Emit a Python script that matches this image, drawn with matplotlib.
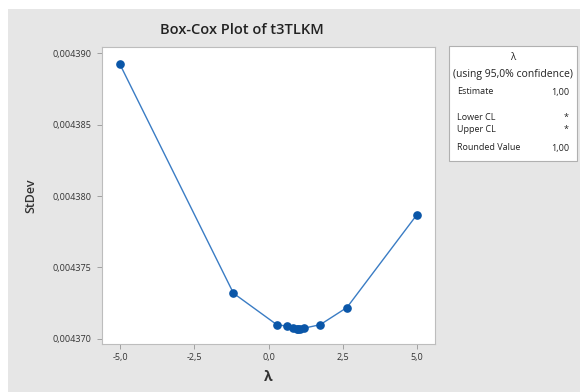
import matplotlib
matplotlib.use("Agg")
import matplotlib.pyplot as plt
from matplotlib.patches import Rectangle
from matplotlib.ticker import FuncFormatter, FixedLocator

lam = [-5.0, -1.18, 0.28, 0.62, 0.84, 0.96, 1.0, 1.05, 1.18, 1.74, 2.64, 5.0]
stdev = [0.0043892, 0.0043732, 0.0043710, 0.0043709, 0.00437075, 0.00437072,
         0.00437072, 0.00437072, 0.00437075, 0.0043710, 0.0043722, 0.0043787]
xticks = [-5.0, -2.5, 0.0, 2.5, 5.0]
yticks = [0.004370, 0.004375, 0.004380, 0.004385, 0.004390]
legend_rows = [("Estimate", "1,00"), ("Lower CL", "*"), ("Upper CL", "*"), ("Rounded Value", "1,00")]

plt.rcParams['font.family'] = ['Open Sans', 'DejaVu Sans']

W, H = 580, 392
fig = plt.figure(figsize=(W / 100, H / 100), dpi=100)
fig.patch.set_facecolor('white')
fig.patches.append(Rectangle((8 / W, 0), 1 - 8 / W, 1 - 9 / H, transform=fig.transFigure,
                             facecolor='#e6e6e6', edgecolor='none', zorder=-10))

ax = fig.add_axes([102 / W, 1 - 344 / H, (435 - 102) / W, (344 - 47) / H])
ax.set_zorder(2)
ax.set_facecolor('white')
ax.plot(lam, stdev, color='#3a7cc4', lw=1.0, marker='o', markersize=5.2,
        markerfacecolor='#0a56a8', markeredgecolor='#0a56a8', zorder=3, clip_on=False)
ax.set_xlim(-5.606, 5.606)
ax.set_ylim(0.00436965, 0.00439042)
ax.xaxis.set_major_locator(FixedLocator(xticks))
ax.yaxis.set_major_locator(FixedLocator(yticks))
ax.xaxis.set_major_formatter(FuncFormatter(lambda v, p: f"{v:.1f}".replace('.', ',')))
ax.yaxis.set_major_formatter(FuncFormatter(lambda v, p: f"{v:.6f}".replace('.', ',')))
for s in ax.spines.values():
    s.set_color('#bdbdbd')
    s.set_linewidth(0.8)
ax.tick_params(axis='both', direction='out', length=3.5, width=0.7, color='#a0a0a0',
               labelsize=6.5, labelcolor='#333333', pad=3)
ax.tick_params(axis='y', pad=4)
ax.set_xlabel('λ', fontsize=10, fontweight='bold', color='#333333', labelpad=6)
ax.set_ylabel('StDev', fontsize=9, fontweight='semibold', color='#333333', labelpad=11)

fig.text(242 / W, 1 - 30 / H, 'Box-Cox Plot of t3TLKM', ha='center', va='center',
         fontsize=10.5, fontweight='semibold', color='#222222')

# legend box
bx0, bx1, by0, by1 = 449, 577, 46, 161
fig.patches.append(Rectangle((bx0 / W, 1 - by1 / H), (bx1 - bx0) / W, (by1 - by0) / H,
                             transform=fig.transFigure, facecolor='white',
                             edgecolor='#b0b0b0', lw=0.8, zorder=1))
cx = (bx0 + bx1) / 2
fig.text(cx / W, 1 - 58 / H, 'λ', ha='center', va='center', fontsize=7, color='#222222', zorder=3)
fig.text(cx / W, 1 - 74 / H, '(using 95,0% confidence)', ha='center', va='center',
         fontsize=7.5, color='#222222', zorder=3)
row_y = [92, 117, 129, 148]
for (lab, val), yy in zip(legend_rows, row_y):
    fig.text(457 / W, 1 - yy / H, lab, ha='left', va='center', fontsize=6.5, color='#222222', zorder=3)
    fig.text(569 / W, 1 - yy / H, val, ha='right', va='center', fontsize=6.5, color='#222222', zorder=3)

fig.savefig('out.png', dpi=100, facecolor=fig.get_facecolor())
